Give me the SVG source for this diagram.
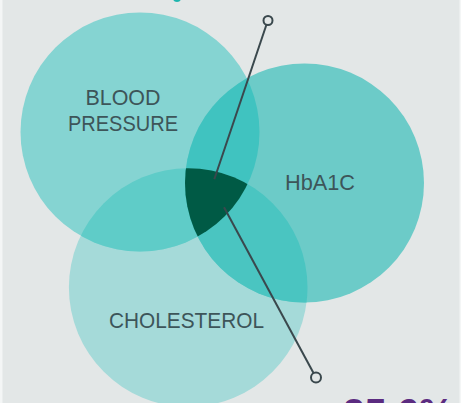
<svg xmlns="http://www.w3.org/2000/svg" width="461" height="403" viewBox="0 0 461 403">
  <style>
    .lbl { font-family: "Liberation Sans", Arial, sans-serif; font-size: 22px; fill: #3d5559; text-anchor: middle; }
    .conn { stroke: #3a484d; stroke-width: 2; fill: none; }
    .end { stroke: #3a484d; stroke-width: 2; fill: #e3e7e7; }
  </style>
  <defs>
    <clipPath id="clipBP"><circle cx="140" cy="132" r="119.5"/></clipPath>
    <clipPath id="clipH"><circle cx="304.5" cy="183" r="119.5"/></clipPath>
  </defs>
  <rect x="0" y="0" width="461" height="403" fill="#e3e7e7"/>
  <rect x="0" y="0" width="2.5" height="403" fill="#f4f6f6"/>
  <rect x="459.5" y="0" width="1.5" height="403" fill="#f4f6f6"/>
  <circle cx="177" cy="-2" r="4" fill="#1db5ae"/>

  <g id="cholesterol">
    <circle cx="188.2" cy="287.5" r="119.3" fill="#a5dad9"/>
  </g>
  <g id="blood-pressure">
    <circle cx="140" cy="132" r="119.5" fill="#85d4d2"/>
  </g>
  <g id="hba1c">
    <circle cx="304.5" cy="183" r="119.5" fill="#6ccbc8"/>
  </g>
  <g id="overlaps">
    <circle cx="188.2" cy="287.5" r="119.3" fill="#5fccc8" clip-path="url(#clipBP)"/>
    <circle cx="304.5" cy="183" r="119.5" fill="#40c3c0" clip-path="url(#clipBP)"/>
    <circle cx="188.2" cy="287.5" r="119.3" fill="#4ac5c1" clip-path="url(#clipH)"/>
    <g clip-path="url(#clipBP)">
      <circle cx="188.2" cy="287.5" r="119.3" fill="#005a45" clip-path="url(#clipH)"/>
    </g>
  </g>
  <g id="labels">
    <text class="lbl" x="123" y="105" textLength="75" lengthAdjust="spacingAndGlyphs">BLOOD</text>
    <text class="lbl" x="123" y="131" textLength="110" lengthAdjust="spacingAndGlyphs">PRESSURE</text>
    <text class="lbl" x="320" y="190" textLength="70" lengthAdjust="spacingAndGlyphs">HbA1C</text>
    <text class="lbl" x="186.5" y="328" textLength="155" lengthAdjust="spacingAndGlyphs">CHOLESTEROL</text>
  </g>
  <g id="connectors">
    <line class="conn" x1="266.5" y1="24.5" x2="214.3" y2="179.3"/>
    <circle class="end" cx="268" cy="20.5" r="4.5"/>
    <line class="conn" x1="224" y1="207.3" x2="313.5" y2="373"/>
    <circle class="end" cx="316" cy="377.5" r="5"/>
  </g>
  <text x="343" y="426" font-family="'Liberation Sans', Arial, sans-serif" font-size="39" font-weight="bold" fill="#5b2b80">25.6%</text>
</svg>
